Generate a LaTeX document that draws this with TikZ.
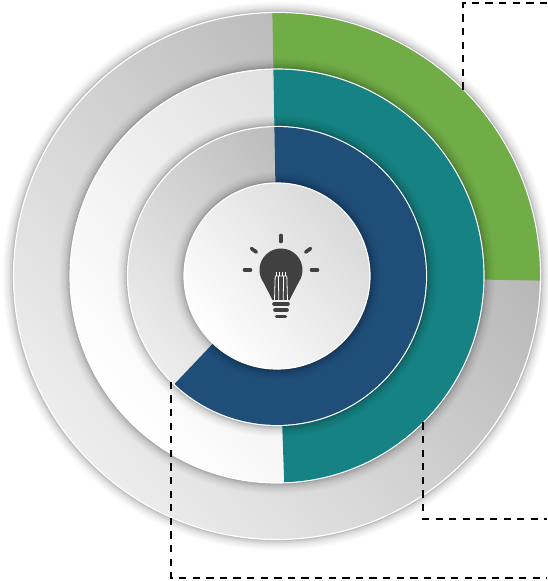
\documentclass[tikz,border=0pt]{standalone}
\usepackage{xcolor}
\usepackage{tikz}

\definecolor{leafgreen}{RGB}{112,173,71}
\definecolor{seateal}{RGB}{22,130,131}
\definecolor{deepblue}{RGB}{31,78,121}
\definecolor{icongray}{RGB}{64,64,64}

\tikzset{
	glow/.style = {
		preaction = {draw=black, draw opacity=.02, line width=22pt},
		preaction = {draw=black, draw opacity=.03, line width=18pt},
		preaction = {draw=black, draw opacity=.035, line width=14pt},
		preaction = {draw=black, draw opacity=.045, line width=10pt},
		preaction = {draw=black, draw opacity=.055, line width=7pt},
		preaction = {draw=black, draw opacity=.07, line width=4pt},
		preaction = {draw=black, draw opacity=.08, line width=2pt}},
	rim/.style = {draw=white, line width=1.2pt},
	darkdisk/.style = {top color=black!31, bottom color=black!7, shading angle=-50},
	lightdisk/.style = {top color=black!15, bottom color=white, shading angle=-50},
	guide/.style = {draw=black, line width=1.8pt, dash pattern=on 7.3pt off 6.3pt},
	ray/.style = {draw=icongray, line width=3.6pt, line cap=round},
	wire/.style = {draw=white, line width=0.8pt}
}

\begin{document}
\begin{tikzpicture}[x=1pt, y=1pt]
		\useasboundingbox (0,0) rectangle (547,581);
		\coordinate (c) at (277,305);
		\begin{scope}[every node/.style = {circle, inner sep=0pt, outer sep=0pt, glow, rim}]
			\node[darkdisk, minimum size=527pt] (outer) at (c) {};
			\fill[leafgreen] (c) -- ++(91:262.9) arc[start angle=91, end angle=-1, radius=262.9] -- cycle;
			\node[lightdisk, minimum size=414pt] (middle) at (c) {};
			\fill[seateal] (c) -- ++(91:206.4) arc[start angle=91, end angle=-88, radius=206.4] -- cycle;
			\node[darkdisk, minimum size=299pt] (inner) at (c) {};
			\fill[deepblue] (c) -- ++(91:148.9) arc[start angle=91, end angle=-133.5, radius=148.9] -- cycle;
			\node[lightdisk, minimum size=186pt] (core) at (c) {};
		\end{scope}
		\coordinate (bulb) at (281,311);
		\begin{scope}[shift={(bulb)}]
			\fill[icongray] (-35:21.5) arc[start angle=-35, end angle=215, radius=21.5] -- (-8.5,-30) -- (8.5,-30) -- cycle;
			\draw[wire] (-6.5,-30) -- (-5.8,-6) -- (5.8,-6) -- (6.5,-30);
			\draw[wire] (-2.2,-30) -- (-2.6,-6);
			\draw[wire] (2.2,-30) -- (2.6,-6);
			\draw[wire] (-4.2,-6) -- (-4.2,-2.5);
			\draw[wire] (-1.4,-6) -- (-1.4,-2.5);
			\draw[wire] (1.4,-6) -- (1.4,-2.5);
			\draw[wire] (4.2,-6) -- (4.2,-2.5);
			\draw[ray] (-7,-34) -- (7,-34);
			\draw[ray] (-6,-40) -- (6,-40);
			\draw[ray] (-4.5,-46.5) -- (4.5,-46.5);
			\draw[ray] (0:30.5) -- (0:36.5);
			\draw[ray] (36:30.5) -- (36:36.5);
			\draw[ray] (90:28.5) -- (90:34.5);
			\draw[ray] (144:30.5) -- (144:36.5);
			\draw[ray] (180:30.5) -- (180:36.5);
		\end{scope}
		\coordinate (tipA) at (547,578);
		\coordinate (tipB) at (547,62);
		\coordinate (tipC) at (547,3);
		\begin{scope}[every path/.style = {guide}]
			\path (outer.45) |- (tipA);
			\path (middle.-45) |- (tipB);
			\path (inner.-135) |- (tipC);
		\end{scope}
	\end{tikzpicture}
\end{document}
